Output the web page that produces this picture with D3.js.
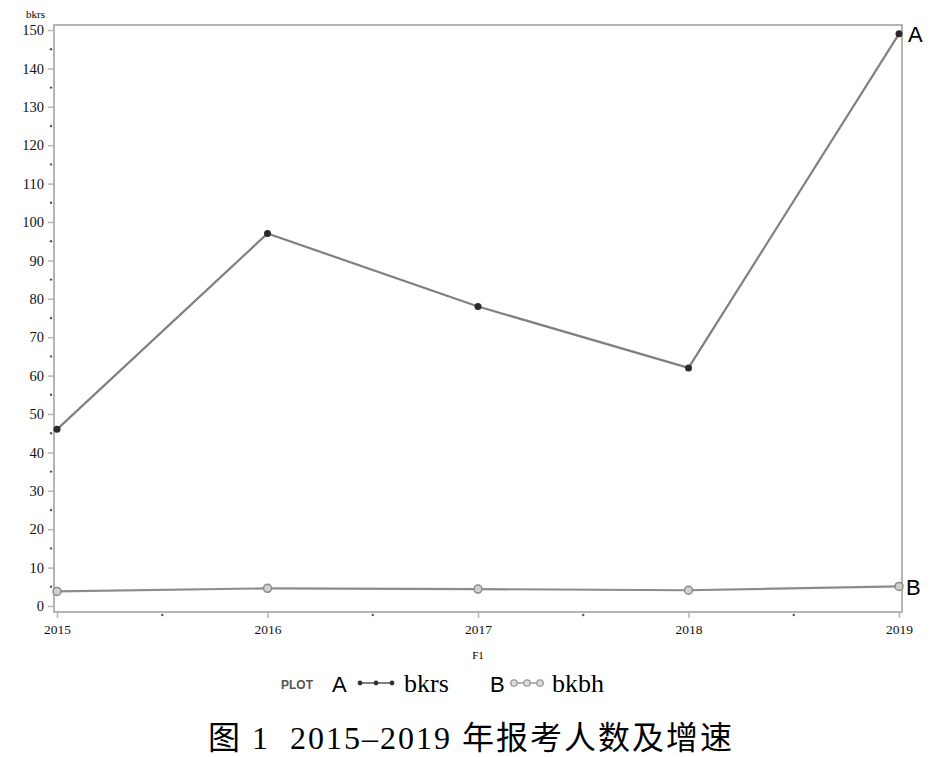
<!DOCTYPE html>
<html>
<head>
<meta charset="utf-8">
<script src="https://cdn.jsdelivr.net/npm/d3@7"></script>
<style>
body { margin:0; background:#fff; }
text { font-family: "Liberation Serif", "Noto Sans CJK SC", serif; }
.tick text { font-family: "Liberation Serif", serif !important; }
</style>
</head>
<body>
<script>
var years = [2015, 2016, 2017, 2018, 2019]
var bkrs = [46, 97, 78, 62, 149]
var bkbh = [3.8, 4.6, 4.4, 4.1, 5.1]
var yTicks = d3.range(0, 151, 10)
var yMinor = d3.range(5, 150, 10)
var xMinor = [2015.5, 2016.5, 2017.5, 2018.5]

var width = 936, height = 757
var svg = d3.select("body").append("svg").attr("width", width).attr("height", height)

var x = d3.scaleLinear().domain([2015, 2019]).range([57, 899])
var y = d3.scaleLinear().domain([0, 150]).range([606, 30])

var frameL = 54, frameR = 902, frameT = 25, frameB = 612
var gray = "#b4b4b4"

// frame
svg.append("rect")
    .attr("x", frameL).attr("y", frameT)
    .attr("width", frameR - frameL).attr("height", frameB - frameT)
    .attr("fill", "none").attr("stroke", gray).attr("stroke-width", 2)

// y axis
var yAxis = d3.axisLeft(y).tickValues(yTicks).tickSize(6).tickPadding(4)
var gy = svg.append("g").attr("transform", "translate(" + frameL + ",0)").call(yAxis)
    .attr("font-family", "Liberation Serif")
gy.select(".domain").remove()
gy.selectAll(".tick line").attr("stroke", gray).attr("stroke-width", 1.5)
gy.selectAll(".tick text").attr("font-size", 14.5).attr("fill", "#111")
svg.append("g").selectAll("circle").data(yMinor).enter().append("circle")
    .attr("cx", frameL - 3).attr("cy", function(d){ return y(d) })
    .attr("r", 1.2).attr("fill", "#555")

// x axis
var xAxis = d3.axisBottom(x).tickValues(years).tickFormat(d3.format("d")).tickSize(6).tickPadding(6)
var gx = svg.append("g").attr("transform", "translate(0," + frameB + ")").call(xAxis)
    .attr("font-family", "Liberation Serif")
gx.select(".domain").remove()
gx.selectAll(".tick line").attr("stroke", gray).attr("stroke-width", 1.5)
gx.selectAll(".tick text").attr("font-size", 13.5).attr("fill", "#111")
svg.append("g").selectAll("circle").data(xMinor).enter().append("circle")
    .attr("cx", function(d){ return x(d) }).attr("cy", frameB + 3)
    .attr("r", 1.2).attr("fill", "#555")

// axis titles
svg.append("text").attr("x", 26).attr("y", 18).attr("font-size", 11).text("bkrs")
svg.append("text").attr("x", 478).attr("y", 659).attr("font-size", 11).attr("text-anchor", "middle").text("F1")

var line = d3.line().x(function(d, i){ return x(years[i]) }).y(function(d){ return y(d) })

// series B
svg.append("path").datum(bkbh).attr("d", line)
    .attr("fill", "none").attr("stroke", "#8c8c8c").attr("stroke-width", 2.2)
svg.append("g").selectAll("circle").data(bkbh).enter().append("circle")
    .attr("cx", function(d, i){ return x(years[i]) }).attr("cy", function(d){ return y(d) })
    .attr("r", 4).attr("fill", "#d0d0d0").attr("stroke", "#8a8a8a").attr("stroke-width", 1.5)

// series A
svg.append("path").datum(bkrs).attr("d", line)
    .attr("fill", "none").attr("stroke", "#808080").attr("stroke-width", 2.2)
svg.append("g").selectAll("circle").data(bkrs).enter().append("circle")
    .attr("cx", function(d, i){ return x(years[i]) }).attr("cy", function(d){ return y(d) })
    .attr("r", 3.5).attr("fill", "#2a2a2a")

// end labels
svg.append("text").attr("x", 908).attr("y", y(bkrs[4]) + 8).attr("font-size", 22)
    .style("font-family", "Liberation Sans").text("A")
svg.append("text").attr("x", 906).attr("y", y(bkbh[4]) + 9).attr("font-size", 22)
    .style("font-family", "Liberation Sans").text("B")

// legend
var lg = svg.append("g")
lg.append("text").attr("x", 281).attr("y", 689).attr("font-size", 12).attr("font-weight", "bold")
    .attr("fill", "#555").style("font-family", "Liberation Sans").text("PLOT")
lg.append("text").attr("x", 332).attr("y", 692).attr("font-size", 22)
    .style("font-family", "Liberation Sans").text("A")
lg.append("line").attr("x1", 358).attr("x2", 394).attr("y1", 683).attr("y2", 683)
    .attr("stroke", "#555").attr("stroke-width", 1.5)
lg.selectAll(".la").data([360, 376, 392]).enter().append("circle")
    .attr("cx", function(d){ return d }).attr("cy", 683).attr("r", 2.4).attr("fill", "#333")
lg.append("text").attr("x", 404).attr("y", 692).attr("font-size", 26).text("bkrs")
lg.append("text").attr("x", 490).attr("y", 692).attr("font-size", 22)
    .style("font-family", "Liberation Sans").text("B")
lg.append("line").attr("x1", 510).attr("x2", 544).attr("y1", 683).attr("y2", 683)
    .attr("stroke", "#999").attr("stroke-width", 1.5)
lg.selectAll(".lb").data([514, 527, 540]).enter().append("circle")
    .attr("cx", function(d){ return d }).attr("cy", 683).attr("r", 3.2)
    .attr("fill", "#ddd").attr("stroke", "#999").attr("stroke-width", 1.3)
lg.append("text").attr("x", 552).attr("y", 692).attr("font-size", 26).text("bkbh")

// caption
svg.append("text").attr("x", 471).attr("y", 749).attr("font-size", 32).attr("text-anchor", "middle")
    .attr("letter-spacing", 2).style("white-space", "pre")
    .text("图 1  2015–2019 年报考人数及增速")
</script>
</body>
</html>
